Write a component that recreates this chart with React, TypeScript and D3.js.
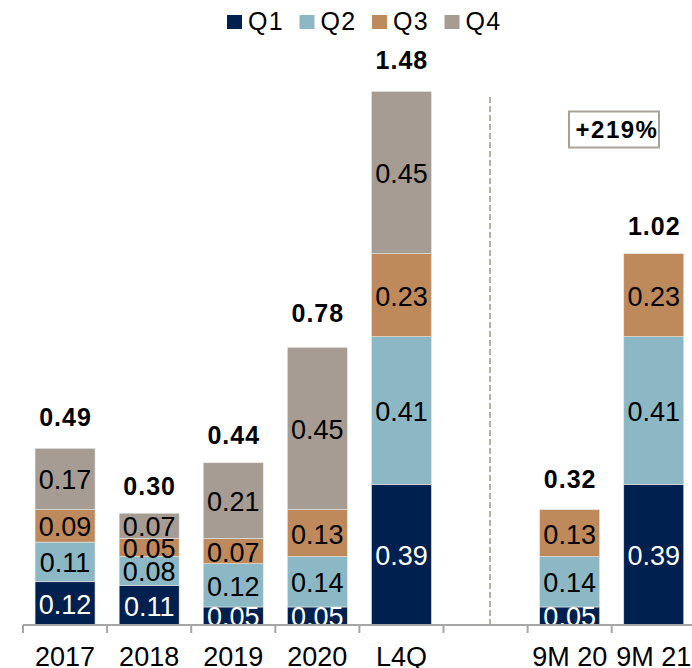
import React from "react";
import * as d3 from "d3";

const categories = ["2017", "2018", "2019", "2020", "L4Q", "", "9M 20", "9M 21"];
const seriesNames = ["Q1", "Q2", "Q3", "Q4"];
const q1 = [0.12, 0.11, 0.05, 0.05, 0.39, 0, 0.05, 0.39];
const q2 = [0.11, 0.08, 0.12, 0.14, 0.41, 0, 0.14, 0.41];
const q3 = [0.09, 0.05, 0.07, 0.13, 0.23, 0, 0.13, 0.23];
const q4 = [0.17, 0.07, 0.21, 0.45, 0.45, 0, 0, 0];
const totals = [0.49, 0.3, 0.44, 0.78, 1.48, null, 0.32, 1.02];
const growthLabel = "+219%";

const colors = ["#00214f", "#8cb8c6", "#bf8a5b", "#a69c93"];
const labelColors = ["#ffffff", "#000000", "#000000", "#000000"];

const W = 692;
const H = 668;
const FONT = "'Liberation Sans', Arial, Helvetica, sans-serif";

export default function App() {
  const seriesVals = [q1, q2, q3, q4];
  const rows = categories.map((c, i) => {
    const r: any = { cat: c };
    seriesNames.forEach((s, k) => (r[s] = seriesVals[k][i]));
    return r;
  });
  const stack = d3.stack<any>().keys(seriesNames)(rows);

  const x = d3
    .scaleBand<string>()
    .domain(categories.map((c, i) => i + ""))
    .range([23, 23 + 84.1 * categories.length])
    .paddingInner(0.2866)
    .paddingOuter(0.1433);
  const y = d3.scaleLinear().domain([0, 1.6]).range([625, 625 - 1.6 * 360.5]);

  const step = x.step();
  const bw = x.bandwidth();
  const ticks = d3.range(categories.length + 1).map((i) => 23 + i * step);
  const dashX = 490;

  return (
    <svg
      width={W}
      height={H}
      style={{ position: "absolute", left: 0, top: 0, background: "#fff" }}
      fontFamily={FONT}
    >
      {/* legend */}
      {seriesNames.map((s, k) => {
        const lx = 227 + k * 72.5;
        return (
          <g key={s}>
            <rect x={lx} y={15} width={15} height={14} fill={colors[k]} />
            <text x={lx + 21} y={30} fontSize={25} letterSpacing={1.2} fill="#000">
              {s}
            </text>
          </g>
        );
      })}

      {/* bars */}
      {stack.map((layer, k) =>
        layer.map((d, i) => {
          const v = d[1] - d[0];
          if (!v) return null;
          const x0 = x(i + "")!;
          const yTop = y(d[1]);
          const yBot = y(d[0]);
          return (
            <rect
              key={`${k}-${i}`}
              x={x0}
              y={yTop}
              width={bw}
              height={yBot - yTop}
              fill={colors[k]}
              stroke="#e6e6e6"
              strokeWidth={0.6}
            />
          );
        })
      )}

      {/* axis */}
      <line x1={23} x2={W} y1={625} y2={625} stroke="#a6a6a6" strokeWidth={2} />
      {ticks.map((t, i) => (
        <line key={i} x1={t} x2={t} y1={625} y2={633} stroke="#a6a6a6" strokeWidth={2} />
      ))}

      {/* segment labels */}
      {stack.map((layer, k) =>
        layer.map((d, i) => {
          const v = d[1] - d[0];
          if (!v) return null;
          const cx = x(i + "")! + bw / 2;
          const cy = (y(d[0]) + y(d[1])) / 2;
          return (
            <text
              key={`l${k}-${i}`}
              x={cx}
              y={cy + 10.5}
              textAnchor="middle"
              fontSize={27}
              fill={labelColors[k]}
            >
              {seriesVals[k][i].toFixed(2)}
            </text>
          );
        })
      )}

      {/* axis redrawn over overflowing labels */}
      <line x1={23} x2={W} y1={625} y2={625} stroke="#a6a6a6" strokeWidth={2} />

      {/* totals */}
      {totals.map((t, i) =>
        t == null ? null : (
          <text
            key={`t${i}`}
            x={x(i + "")! + bw / 2 + 0.5}
            y={y(t) - 22}
            textAnchor="middle"
            fontSize={25}
            fontWeight="bold"
            letterSpacing={1}
            fill="#000"
          >
            {t.toFixed(2)}
          </text>
        )
      )}

      {/* category labels */}
      {categories.map((c, i) => (
        <text
          key={`c${i}`}
          x={x(i + "")! + bw / 2}
          y={666}
          textAnchor="middle"
          fontSize={27}
          fill="#000"
        >
          {c}
        </text>
      ))}

      {/* dashed separator */}
      <line
        x1={dashX}
        x2={dashX}
        y1={97}
        y2={624}
        stroke="#b7aea6"
        strokeWidth={2}
        strokeDasharray="6,3"
      />

      {/* growth box */}
      <rect x={569} y={111.5} width={90} height={36} fill="#fff" stroke="#aaa299" strokeWidth={2} />
      <text
        x={617}
        y={138}
        textAnchor="middle"
        fontSize={24}
        fontWeight="bold"
        letterSpacing={1.5}
        fill="#000"
      >
        {growthLabel}
      </text>
    </svg>
  );
}
